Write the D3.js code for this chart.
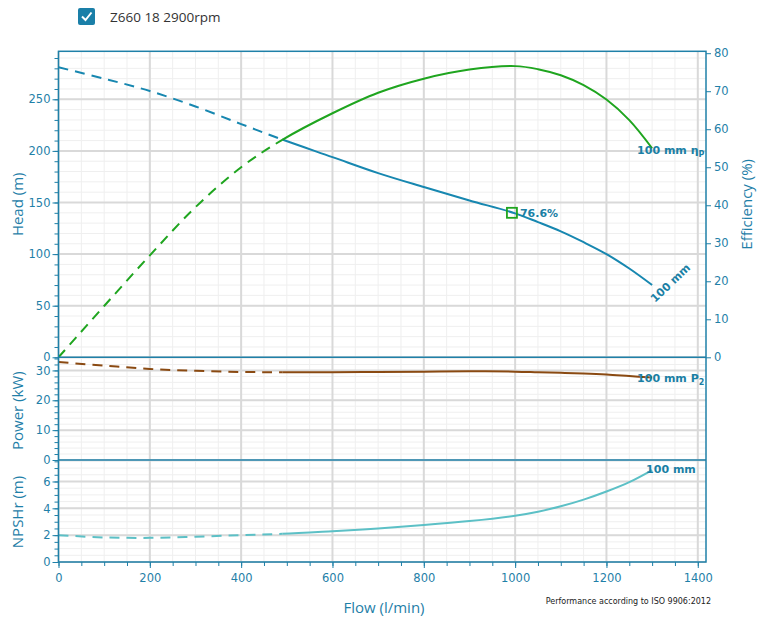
<!DOCTYPE html>
<html><head><meta charset="utf-8">
<script src="https://cdn.jsdelivr.net/npm/d3@7"></script>
<style>
body{margin:0;background:#fff;}
svg{display:block;}
</style></head>
<body>
<svg id="chart" width="769" height="642"></svg>
<script>
// ---- data ----
const flow       = [0, 100, 200, 300, 400, 490, 600, 700, 800, 900, 1000, 1050, 1100, 1150, 1200, 1250, 1300];
const head       = [281, 270, 258, 243, 226, 211, 194, 178.5, 165, 152, 139.5, 131, 122, 111.5, 100, 86, 70];
const efficiency = [0, 13.5, 26.8, 39.5, 50, 57.2, 64.2, 69.6, 73.3, 75.7, 76.6, 75.8, 74.2, 71.6, 67.8, 62.4, 55];
const power      = [32.8, 31.6, 30.5, 29.9, 29.5, 29.4, 29.4, 29.5, 29.6, 29.7, 29.6, 29.4, 29.2, 28.95, 28.6, 28.1, 27.6];
const npshr      = [2.0, 1.83, 1.8, 1.88, 2.0, 2.1, 2.3, 2.5, 2.75, 3.05, 3.45, 3.75, 4.15, 4.65, 5.25, 5.95, 6.85];
const solidFrom  = 490;           // flow where curves switch from dashed to solid
const bep        = {flow: 993, head: 140, eff: 76.6};
const flowTicks  = [0, 200, 400, 600, 800, 1000, 1200, 1400];
const headTicks  = [0, 50, 100, 150, 200, 250];
const effTicks   = [0, 10, 20, 30, 40, 50, 60, 70, 80];
const powerTicks = [0, 10, 20, 30];
const npshTicks  = [0, 2, 4, 6];
const legendText = "Z660 18 2900rpm";
const noteText   = "Performance according to ISO 9906:2012";

// ---- layout ----
const L = 58.5, R = 706, T = 51.3, B1 = 357.3, B2 = 460, B3 = 562;
const axisCol = "#1f80a8", gridMaj = "#d9d9d9", gridMin = "#efefef";
const cHead = "#1787b0", cEff = "#1fa51f", cPow = "#8a4a12", cNpsh = "#5cc0c6";

const svg = d3.select("#chart");
const x = d3.scaleLinear([0, 1418], [L, R]);
const yH = d3.scaleLinear([0, 296.5], [B1, T]);
const yE = d3.scaleLinear([0, 80.5], [B1, T]);
const yP = d3.scaleLinear([0, 34.4], [B2, B1]);
const yN = d3.scaleLinear([0, 7.6], [B3, B2]);

const range = (a, b, s) => d3.range(a, b + 1e-9, s);

// grid
const g = svg.append("g");
function hgrid(scale, minorStep, majorStep, max) {
  g.selectAll(null).data(range(0, max, minorStep)).join("line")
    .attr("x1", L).attr("x2", R).attr("y1", d => scale(d)).attr("y2", d => scale(d))
    .attr("stroke", gridMin).attr("stroke-width", 1);
  g.selectAll(null).data(range(0, max, majorStep)).join("line")
    .attr("x1", L).attr("x2", R).attr("y1", d => scale(d)).attr("y2", d => scale(d))
    .attr("stroke", gridMaj).attr("stroke-width", 2);
}
g.selectAll(null).data(range(0, 1400, 50)).join("line")
  .attr("x1", d => x(d)).attr("x2", d => x(d)).attr("y1", T).attr("y2", B3)
  .attr("stroke", gridMin).attr("stroke-width", 1);
hgrid(yH, 10, 50, 290);
hgrid(yP, 2, 10, 34);
hgrid(yN, 0.5, 2, 7.5);
g.selectAll(null).data(flowTicks).join("line")
  .attr("x1", d => x(d)).attr("x2", d => x(d)).attr("y1", T).attr("y2", B3)
  .attr("stroke", gridMaj).attr("stroke-width", 2);

// clip
svg.append("clipPath").attr("id", "plot").append("rect")
  .attr("x", L).attr("y", T).attr("width", R - L).attr("height", B3 - T);

const curves = svg.append("g").attr("clip-path", "url(#plot)");
function drawSeries(values, yScale, color) {
  const pts = flow.map((f, i) => [f, values[i]]);
  const full = d3.line().x(d => x(d[0])).y(d => yScale(d[1])).curve(d3.curveCatmullRom.alpha(0.5));
  const path = curves.append("path").attr("d", full(pts)).attr("fill", "none");
  const node = path.node();
  const total = node.getTotalLength();
  let lo = 0, hi = total;
  for (let k = 0; k < 40; k++) { const m = (lo + hi) / 2; if (node.getPointAtLength(m).x < x(solidFrom)) lo = m; else hi = m; }
  const split = lo;
  path.remove();
  const dashed = curves.append("path").attr("d", full(pts)).attr("fill", "none")
    .attr("stroke", color).attr("stroke-width", 2);
  const pattern = [];
  let acc = 0;
  while (acc + 17 < split) { pattern.push(10, 7); acc += 17; }
  pattern.push(Math.min(10, split - acc), total);
  dashed.attr("stroke-dasharray", pattern.join(","));
  curves.append("path").attr("d", full(pts)).attr("fill", "none")
    .attr("stroke", color).attr("stroke-width", 2)
    .attr("stroke-dasharray", `0,${split},${total}`);
}
drawSeries(head, yH, cHead);
drawSeries(efficiency, yE, cEff);
drawSeries(power, yP, cPow);
drawSeries(npshr, yN, cNpsh);

// BEP marker
curves.append("rect")
  .attr("x", x(bep.flow) - 5).attr("y", yH(bep.head) - 5).attr("width", 10).attr("height", 10)
  .attr("fill", "none").attr("stroke", cEff).attr("stroke-width", 1.8);

// curve labels
const lbl = (t, px, py) => curves.append("text").attr("x", px).attr("y", py)
  .attr("fill", "#1a7fa5").attr("font-family", "DejaVu Sans, Verdana, sans-serif")
  .attr("font-size", 11).attr("font-weight", "bold").text(t);
lbl("76.6%", x(bep.flow) + 8, yH(bep.head) + 4);
const last = flow.length - 1;
const te = lbl("100 mm  η", x(flow[last]) - 15, yE(efficiency[last]) + 6);
te.append("tspan").attr("font-size", 8).attr("dy", 3).text("P");
const tp = lbl("100 mm  P", x(flow[last]) - 15, yP(power[last]) + 4);
tp.append("tspan").attr("font-size", 8).attr("dy", 3).text("2");
lbl("100 mm", x(flow[last]) - 6, yN(npshr[last]) + 3);
lbl("100 mm", 0, 0).attr("transform", `translate(${x(flow[last]) + 3},${yH(head[last]) + 18}) rotate(-44)`);

// borders
const bd = svg.append("g").attr("fill", "none").attr("stroke", axisCol).attr("stroke-width", 1.5);
bd.append("rect").attr("x", L).attr("y", T).attr("width", R - L).attr("height", B3 - T);
bd.append("line").attr("x1", L).attr("x2", R).attr("y1", B1).attr("y2", B1);
bd.append("line").attr("x1", L).attr("x2", R).attr("y1", B2).attr("y2", B2);

// axes
function styleAxis(sel) {
  sel.select(".domain").remove();
  sel.selectAll("line").attr("stroke", axisCol);
  sel.selectAll("text").attr("fill", axisCol).attr("font-family", "DejaVu Sans, Verdana, sans-serif").attr("font-size", 11.5);
}
function leftAxis(scale, ticks, minorStep, max) {
  svg.append("g").attr("transform", `translate(${L},0)`)
    .call(d3.axisLeft(scale).tickValues(range(0, max, minorStep)).tickSize(4).tickFormat(""))
    .call(styleAxis);
  svg.append("g").attr("transform", `translate(${L},0)`)
    .call(d3.axisLeft(scale).tickValues(ticks).tickSize(6).tickPadding(2).tickFormat(d3.format("d")))
    .call(styleAxis);
}
leftAxis(yH, headTicks, 10, 290);
leftAxis(yP, powerTicks, 2, 34);
leftAxis(yN, npshTicks, 0.5, 7.5);
svg.append("g").attr("transform", `translate(${R},0)`)
  .call(d3.axisRight(yE).tickValues(effTicks).tickSize(5).tickPadding(3).tickFormat(d3.format("d")))
  .call(styleAxis);
svg.append("g").attr("transform", `translate(0,${B3})`)
  .call(d3.axisBottom(x).tickValues(range(0, 1400, 50)).tickSize(4).tickFormat(""))
  .call(styleAxis);
svg.append("g").attr("transform", `translate(0,${B3})`)
  .call(d3.axisBottom(x).tickValues(flowTicks).tickSize(6).tickPadding(6).tickFormat(d3.format("d")))
  .call(styleAxis);

// axis titles
const title = (t, px, py, rot) => svg.append("text")
  .attr("transform", `translate(${px},${py}) rotate(${rot})`)
  .attr("text-anchor", "middle").attr("fill", axisCol)
  .attr("font-family", "Open Sans, sans-serif").attr("font-size", 15).text(t);
title("Head (m)", 23, (T + B1) / 2, -90);
title("Power (kW)", 23, (B1 + B2) / 2 + 2, -90);
title("NPSHr (m)", 23, (B2 + B3) / 2 + 1, -90);
title("Efficiency (%)", 752, (T + B1) / 2, -90);
title("Flow (l/min)", 384, 613, 0);

// legend
const lg = svg.append("g");
lg.append("rect").attr("x", 78).attr("y", 8).attr("width", 17).attr("height", 17).attr("rx", 2)
  .attr("fill", "#1a7fa8");
lg.append("path").attr("d", "M82,16.5 L85.5,20 L91.5,12.5").attr("fill", "none")
  .attr("stroke", "#fff").attr("stroke-width", 2);
lg.append("text").attr("x", 110).attr("y", 21.5).attr("fill", "#333")
  .attr("font-family", "Open Sans, sans-serif").attr("font-size", 13.5).text(legendText);

// footnote
svg.append("text").attr("x", 711).attr("y", 604).attr("text-anchor", "end").attr("fill", "#222")
  .attr("font-family", "DejaVu Sans, Verdana, sans-serif").attr("font-size", 8).text(noteText);
</script>
</body></html>
